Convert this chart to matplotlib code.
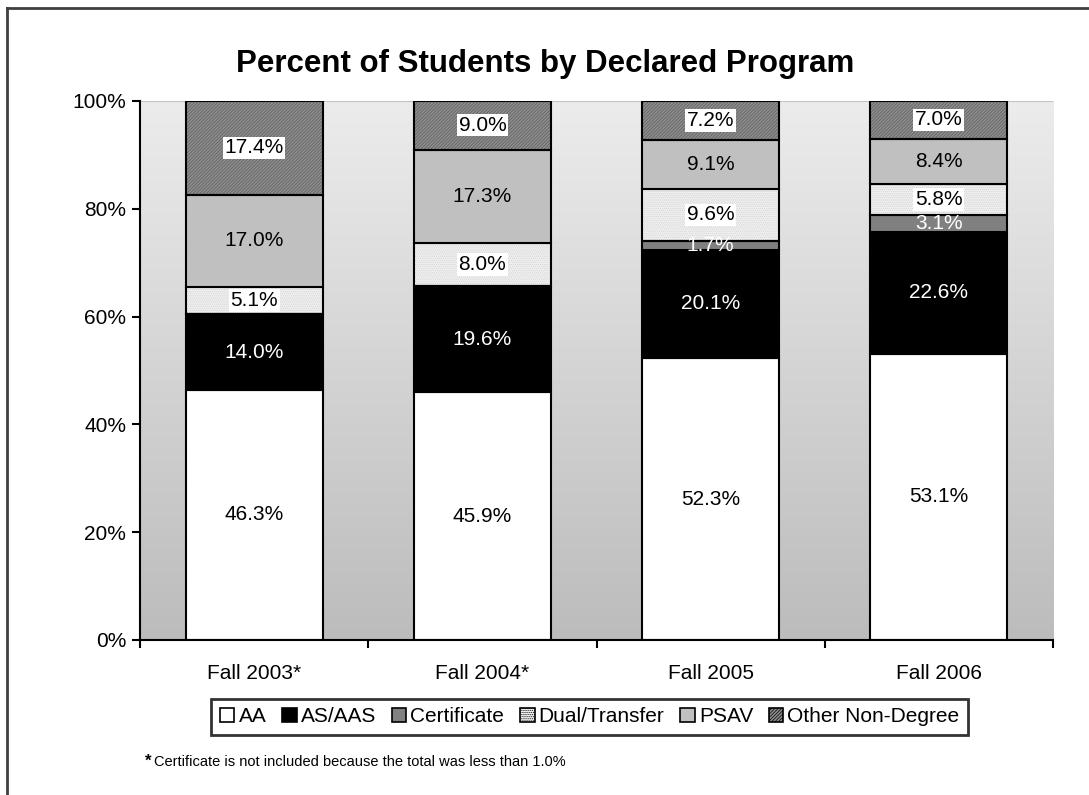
import numpy as np
import matplotlib.pyplot as plt
from matplotlib.colors import LinearSegmentedColormap
from matplotlib.patches import Patch

plt.rcParams['font.family'] = ['Liberation Sans', 'DejaVu Sans']
plt.rcParams['hatch.linewidth'] = 0.5

# data
terms = ['Fall 2003*', 'Fall 2004*', 'Fall 2005', 'Fall 2006']
programs = ['AA', 'AS/AAS', 'Certificate', 'Dual/Transfer', 'PSAV', 'Other Non-Degree']
aa = [46.3, 45.9, 52.3, 53.1]
as_aas = [14.0, 19.6, 20.1, 22.6]
certificate = [0.0, 0.0, 1.7, 3.1]
dual = [5.1, 8.0, 9.6, 5.8]
psav = [17.0, 17.3, 9.1, 8.4]
other = [17.4, 9.0, 7.2, 7.0]

series = [aa, as_aas, certificate, dual, psav, other]
faces = ['white', 'black', '#808080', '#f0f0f0', '#c0c0c0', '#8e8e8e']
hatches = [None, None, None, '........', None, '//////////']
hatch_cols = [None, None, None, '#d0d0d0', None, '#5c5c5c']
txt_cols = ['black', 'white', 'white', 'black', 'black', 'black']
boxed = [False, False, False, True, False, True]

vals = np.array(series)
totals = vals.sum(axis=0)
pct = vals / totals * 100

fig = plt.figure(figsize=(10.89, 7.95), dpi=100)
ax = fig.add_axes([0.1286, 0.195, 0.8384, 0.678])

# gradient background, dark at bottom
grad = np.linspace(1, 0, 256).reshape(-1, 1)
bg = LinearSegmentedColormap.from_list('bg', ['#ececec', '#bcbcbc'])
ax.imshow(grad, cmap=bg, aspect='auto', origin='lower',
          extent=[-0.5, 3.5, 0, 100], zorder=0)
ax.axhline(100, color='#c4c4c4', lw=1.5, zorder=0.5)

x = np.arange(len(terms))
width = 0.6
bottom = np.zeros(len(terms))
handles = []
for i, name in enumerate(programs):
    h = pct[i]
    if hatches[i]:
        ax.bar(x, h, width, bottom=bottom, color=faces[i], edgecolor=hatch_cols[i],
               hatch=hatches[i], linewidth=0, zorder=2)
        ax.bar(x, h, width, bottom=bottom, color='none', edgecolor='black',
               linewidth=1.5, zorder=3)
    else:
        ax.bar(x, h, width, bottom=bottom, color=faces[i], edgecolor='black',
               linewidth=1.5, zorder=3)
    handles.append(Patch(facecolor=faces[i],
                         edgecolor=hatch_cols[i] if hatches[i] else 'black',
                         hatch=hatches[i], linewidth=0 if hatches[i] else 1.2))
    for j in range(len(terms)):
        if series[i][j] <= 0:
            continue
        yc = bottom[j] + h[j] / 2
        kw = {}
        if boxed[i]:
            kw['bbox'] = dict(boxstyle='square,pad=0.08', facecolor='white', edgecolor='none')
        ax.text(x[j], yc, f'{series[i][j]:.1f}%', ha='center', va='center',
                fontsize=15, color=txt_cols[i], zorder=5, **kw)
    bottom += h

ax.set_xlim(-0.5, 3.5)
ax.set_ylim(0, 100)
ax.set_yticks([0, 20, 40, 60, 80, 100])
ax.set_yticklabels([f'{v}%' for v in [0, 20, 40, 60, 80, 100]], fontsize=15)
ax.set_xticks(x)
ax.set_xticklabels(terms, fontsize=15)
ax.tick_params(axis='x', length=0, pad=17)
ax.set_xticks(np.arange(-0.5, 4.0, 1.0), minor=True)
ax.tick_params(axis='x', which='minor', length=6, width=1.5, direction='out')
ax.tick_params(axis='y', length=6, width=1.5, direction='out', pad=4)
for s in ['top', 'right']:
    ax.spines[s].set_visible(False)
for s in ['left', 'bottom']:
    ax.spines[s].set_linewidth(1.5)
    ax.spines[s].set_zorder(6)

fig.text(0.5005, 0.9195, 'Percent of Students by Declared Program', ha='center',
         va='center', fontsize=22.5, fontweight='bold')

leg = fig.legend(handles, programs, loc='center', bbox_to_anchor=(0.5415, 0.0985),
                 ncol=6, fontsize=15, frameon=True, fancybox=False,
                 handlelength=0.7, handleheight=0.7, handletextpad=0.2,
                 columnspacing=0.75, borderpad=0.4, edgecolor='black')
leg.get_frame().set_linewidth(2)
for p in leg.get_patches():
    p.set_edgecolor('black')
    p.set_linewidth(1.2)

fig.text(0.133, 0.0425, '*', fontsize=12, fontweight='bold', ha='left', va='center')
fig.text(0.141, 0.041, 'Certificate is not included because the total was less than 1.0%',
         fontsize=10.5, ha='left', va='center')

# outer frame
fig.add_artist(plt.Line2D([0.0065, 0.0065], [0, 0.99], color='#404040', lw=2,
                          transform=fig.transFigure))
fig.add_artist(plt.Line2D([0.0065, 1], [0.99, 0.99], color='#404040', lw=2,
                          transform=fig.transFigure))

fig.savefig('out.png', dpi=100)
